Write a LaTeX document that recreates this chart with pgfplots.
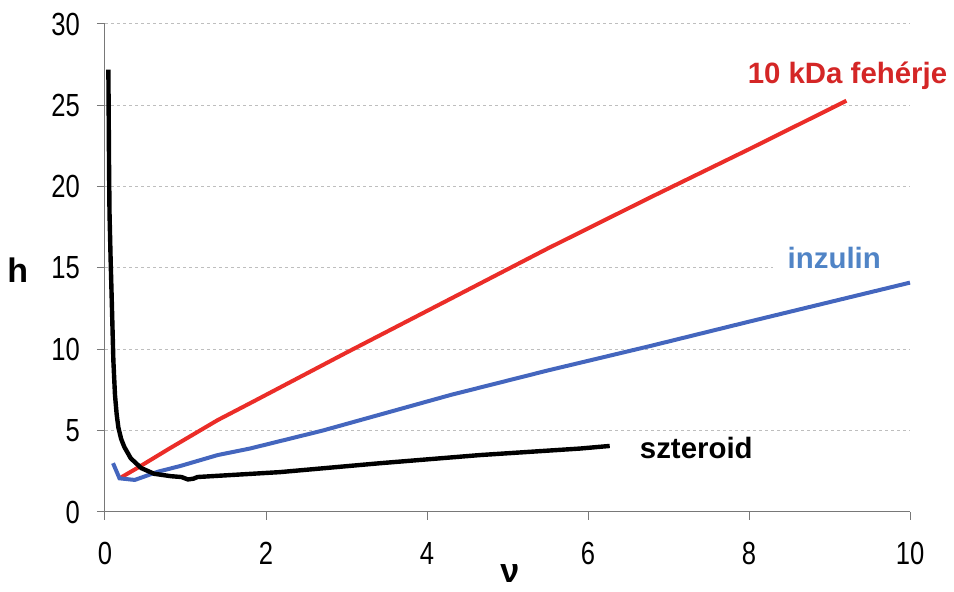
\documentclass[border=0pt]{standalone}
\usepackage{fontspec}
\setmainfont{Liberation Sans}
\newfontfamily\narrowfont[FakeStretch=0.8]{Liberation Sans}
\usepackage{pgfplots}
\pgfplotsset{compat=1.18}
\definecolor{cred}{RGB}{235,45,40}
\definecolor{credtext}{RGB}{212,38,38}
\definecolor{cblue}{RGB}{68,102,190}
\definecolor{cbluetext}{RGB}{80,132,198}
\definecolor{axisgray}{RGB}{120,120,120}
\definecolor{gridgray}{RGB}{190,190,190}
\begin{document}
\begin{tikzpicture}
\begin{axis}[
  at={(0,0)}, anchor=south west,
  scale only axis, width=402.5pt, height=244pt,
  xmin=0, xmax=10, ymin=0, ymax=30,
  xtick={0,2,...,10}, ytick={0,5,...,30},
  axis x line*=bottom, axis y line*=left,
  axis line style={draw=axisgray, line width=0.5pt},
  tick style={draw=axisgray, line width=0.5pt},
  tick align=outside, major tick length=4pt,
  ymajorgrids,
  grid style={draw=gridgray, line width=0.5pt, dash pattern=on 1.5pt off 1.5pt},
  ticklabel style={font=\fontsize{16}{18}\selectfont\narrowfont},
  xticklabel style={yshift=-7.5pt},
  yticklabel style={xshift=-5pt},
  /pgf/number format/assume math mode=true,
  clip=false,
]
% 10 kDa feherje
\addplot[cred, line width=2pt] coordinates {
(0.18,2.07) (0.4,2.7) (0.8,3.9) (1.4,5.65) (1.8,6.68) (3.0,9.8) (4.29,13.1) (5.5,16.2) (6.77,19.33) (8.0,22.3) (9.21,25.28)
};
% inzulin
\addplot[cblue, line width=2pt] coordinates {
(0.1,3.0) (0.18,2.07) (0.37,1.97) (0.66,2.48) (0.93,2.82) (1.4,3.5) (1.8,3.9) (2.7,5.0) (4.29,7.19) (5.5,8.7) (6.77,10.2) (8.0,11.7) (9.0,12.9) (10,14.1)
};
% szteroid
\addplot[black, line width=2.2pt] coordinates {
(0.042,27.2) (0.05,21.5) (0.056,18.4) (0.07,15.5) (0.083,13.2) (0.104,9.3) (0.124,7.2) (0.145,6.0) (0.166,5.2) (0.2,4.5) (0.24,4.0) (0.32,3.3) (0.45,2.7) (0.61,2.35) (0.82,2.2) (0.95,2.15) (1.03,2.0) (1.1,2.05) (1.15,2.15) (2.17,2.45) (3.42,3.0) (4.66,3.5) (5.9,3.9) (6.27,4.06)
};
\node[anchor=west, inner sep=0pt, text=credtext, font=\fontsize{14.7}{16}\selectfont\bfseries] at (axis cs:7.98,26.8) {10 kDa fehérje};
\node[anchor=west, inner xsep=0pt, inner ysep=3pt, fill=white, text width=68.5pt, text=cbluetext, font=\fontsize{14.7}{16}\selectfont\bfseries] at (axis cs:8.29,15.6) {\hspace*{7.5pt}inzulin};
\node[anchor=west, inner sep=0pt, text=black, font=\fontsize{14.7}{16}\selectfont\bfseries] at (axis cs:6.64,3.93) {szteroid};
\node[inner sep=0pt, font=\fontsize{17}{18}\selectfont\bfseries] at (axis cs:-1.085,14.87) {h};
\node[anchor=north, inner sep=0pt, font=\fontsize{17}{18}\selectfont\bfseries] at (axis cs:5.03,-3.2) {ν};
\end{axis}
\pgfresetboundingbox
\path (-52.5pt,-40pt) rectangle (424.5pt,256pt);
\end{tikzpicture}
\end{document}
